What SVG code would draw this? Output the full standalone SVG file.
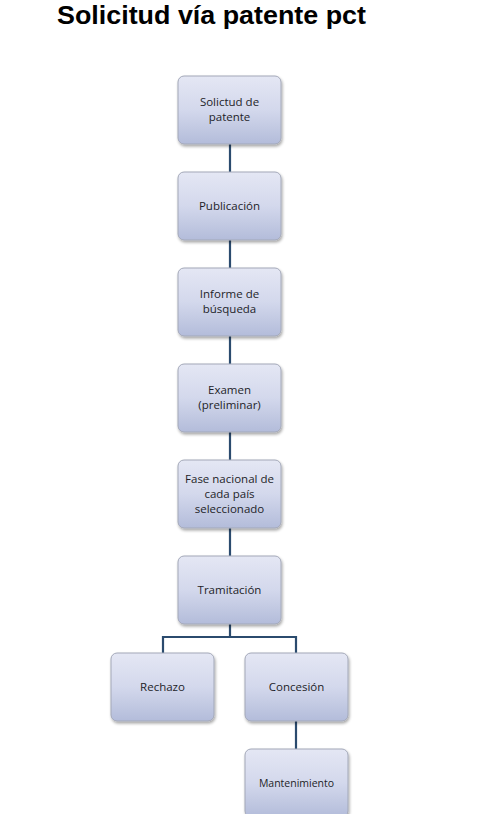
<svg xmlns="http://www.w3.org/2000/svg" width="482" height="814" viewBox="0 0 482 814">
<defs>
<linearGradient id="g" x1="0" y1="0" x2="0" y2="1">
<stop offset="0" stop-color="#e4e7f4"/>
<stop offset="0.5" stop-color="#d3d8ec"/>
<stop offset="1" stop-color="#b3bcda"/>
</linearGradient>
<filter id="sh" x="-20%" y="-20%" width="140%" height="140%">
<feGaussianBlur in="SourceAlpha" stdDeviation="1.5"/>
<feOffset dx="1" dy="2" result="b"/>
<feComponentTransfer><feFuncA type="linear" slope="0.35"/></feComponentTransfer>
<feMerge><feMergeNode/><feMergeNode in="SourceGraphic"/></feMerge>
</filter>
</defs>
<style>
.box{fill:url(#g);stroke:#a3a8b8;stroke-width:1;filter:url(#sh)}
.t{font-family:"Open Sans","Liberation Sans",sans-serif;font-size:11.5px;fill:#1e1e28;text-anchor:middle}
.c{stroke:#2b4b6e;stroke-width:2.2;fill:none}
.title{font-family:"Liberation Sans",Arial,sans-serif;font-weight:bold;font-size:26px;fill:#000}
</style>
<rect width="482" height="814" fill="#fff"/>
<text class="title" x="57" y="24" textLength="309" lengthAdjust="spacingAndGlyphs">Solicitud vía patente pct</text>
<g id="connectors">
<path class="c" d="M230 144V172M230 240V268M230 336V364M230 432V460M230 528V556M230 624V637M163 637H296M163 636V653M296 636V653M296 721V749"/>
</g>
<g id="n1"><rect class="box" x="178" y="76" width="103" height="68" rx="6"/><text class="t" x="229.5" y="106">Solictud de</text><text class="t" x="229.5" y="121">patente</text></g>
<g id="n2"><rect class="box" x="178" y="172" width="103" height="68" rx="6"/><text class="t" x="229.5" y="210">Publicación</text></g>
<g id="n3"><rect class="box" x="178" y="268" width="103" height="68" rx="6"/><text class="t" x="229.5" y="298">Informe de</text><text class="t" x="229.5" y="313">búsqueda</text></g>
<g id="n4"><rect class="box" x="178" y="364" width="103" height="68" rx="6"/><text class="t" x="229.5" y="394">Examen</text><text class="t" x="229.5" y="409">(preliminar)</text></g>
<g id="n5"><rect class="box" x="178" y="460" width="103" height="68" rx="6"/><text class="t" x="229.5" y="483">Fase nacional de</text><text class="t" x="229.5" y="498">cada país</text><text class="t" x="229.5" y="513">seleccionado</text></g>
<g id="n6"><rect class="box" x="178" y="556" width="103" height="68" rx="6"/><text class="t" x="229.5" y="594">Tramitación</text></g>
<g id="n7"><rect class="box" x="111" y="653" width="103" height="68" rx="6"/><text class="t" x="162.5" y="691">Rechazo</text></g>
<g id="n8"><rect class="box" x="245" y="653" width="103" height="68" rx="6"/><text class="t" x="296.5" y="691">Concesión</text></g>
<g id="n9"><rect class="box" x="245" y="749" width="103" height="68" rx="6"/><text class="t" x="296.5" y="787" style="font-size:10.5px">Mantenimiento</text></g>
</svg>
